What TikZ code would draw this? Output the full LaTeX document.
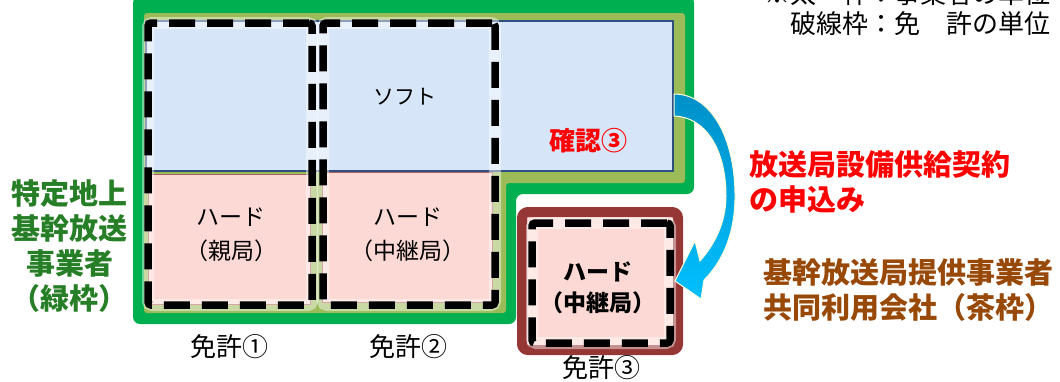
\documentclass[tikz,border=0pt]{standalone}
\usepackage{fontspec}
\newfontfamily\jp{Noto Sans CJK JP}
\definecolor{grn}{HTML}{00B050}
\definecolor{olv}{HTML}{9BBB59}
\definecolor{brn}{HTML}{953735}
\definecolor{brntxt}{HTML}{984807}
\definecolor{lblue}{HTML}{D6E5F8}
\definecolor{bblue}{HTML}{2F4F7F}
\definecolor{lpink}{HTML}{FCD9D4}
\definecolor{bpink}{HTML}{B06060}
\definecolor{gtxt}{HTML}{267F26}
\definecolor{arrtop}{HTML}{0090C8}
\definecolor{arrbot}{HTML}{00BFFF}
\begin{document}
\begin{tikzpicture}[x=1pt,y=-1pt,
  softbox/.style={fill=lblue, draw=bblue, line width=1.5pt, inner sep=0pt},
  hardbox/.style={fill=lpink, draw=bpink, line width=1pt, inner sep=0pt, align=center},
  licbox/.style={draw=black, line width=7.5pt, dash pattern=on 26pt off 12pt, rounded corners=3pt, inner sep=0pt},
  glow/.style={draw=white, draw opacity=0.45, line width=12pt, rounded corners=4pt},
  hardtxt/.style={font=\jp\fontsize{23}{34}\selectfont, align=center},
  hardbold/.style={font=\jp\bfseries\fontsize{23}{31}\selectfont, align=center},
  lictxt/.style={font=\jp\fontsize{26}{30}\selectfont},
  biglbl/.style={font=\jp\bfseries\fontsize{29}{35}\selectfont},
]
\useasboundingbox (0,0) rectangle (1060,381);

% green operator frame (L-shape)
\fill[grn, rounded corners=7pt] (133,-4) -- (694,-4) -- (694,194) -- (516,194) -- (516,324) -- (133,324) -- cycle;
\fill[olv, rounded corners=3pt] (144,13) -- (685,13) -- (685,183) -- (506,183) -- (506,313) -- (144,313) -- cycle;

% boxes
\node[softbox, minimum width=527pt, minimum height=150pt] (soft) at (409.5,96) {};
\node[font=\jp\fontsize{21}{25}\selectfont] (softtxt) at (405,97) {ソフト};
\node[hardbox, minimum width=162pt, minimum height=130pt] (hard1) at (229,239) {};
\node[hardbox, minimum width=170pt, minimum height=130pt] (hard2) at (407,237) {};
\node[hardtxt] (hard1txt) at (231,235) {ハード\\（親局）};
\node[hardtxt] (hard2txt) at (408,235) {ハード\\（中継局）};
\node[font=\jp\bfseries\fontsize{26}{30}\selectfont, text=red] (kakunin) at (588,141) {確認③};

% brown shared-use company frame
\node[fill=lpink, draw=brn, line width=10pt, rounded corners=6pt, minimum width=156pt, minimum height=138pt, inner sep=0pt] (brown) at (600,281) {};
\node[hardbold] (hard3txt) at (598,288) {ハード\\（中継局）};

% license dashed frames
\draw[glow] (148,23) rectangle (312,305);
\draw[glow] (323,23) rectangle (495,305);
\draw[glow] (532,223) rectangle (670,343);
\node[licbox, minimum width=164pt, minimum height=282pt] (lic1) at (230,164) {};
\node[licbox, minimum width=172pt, minimum height=282pt] (lic2) at (409,164) {};
\node[licbox, minimum width=138pt, minimum height=120pt] (lic3) at (601,283) {};

\node[lictxt] (l1) at (229,347) {免許①};
\node[lictxt] (l2) at (408,347) {免許②};
\node[lictxt] (l3) at (601,368) {免許③};

% curved arrow
\coordinate (astart) at (soft.east);
\coordinate (aend) at (brown.east);
\shadedraw[top color=arrtop, bottom color=arrbot, draw=white!85!yellow, line width=1pt]
  (674,94) .. controls (712,94) and (736,140) .. (735,200)
  .. controls (734,236) and (722,262) .. (704,280)
  -- (701,299) -- (675,281) -- (695,241) -- (700,261)
  .. controls (715,244) and (726,222) .. (726,196)
  .. controls (726,150) and (706,117) .. (674,116) -- cycle;

% labels
\node[biglbl, text=gtxt, align=center] (op) at (70,246) {特定地上\\基幹放送\\事業者\\（緑枠）};
\node[biglbl, text=red, align=left, anchor=west] (apply) at (746,182) {放送局設備供給契約\\の申込み};
\node[biglbl, text=brntxt, align=left, anchor=west] (company) at (760,290) {基幹放送局提供事業者\\共同利用会社（茶枠）};
\node[font=\jp\fontsize{26}{30}\selectfont, align=right, anchor=north east] (note) at (1054,-22) {※太　枠：事業者の単位\\破線枠：免　許の単位};
\end{tikzpicture}
\end{document}
